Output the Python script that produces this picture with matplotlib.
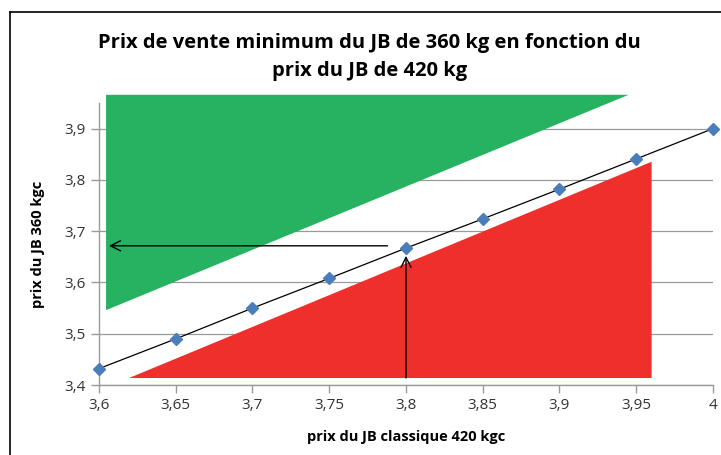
import matplotlib.pyplot as plt
from matplotlib.patches import Polygon
from matplotlib.lines import Line2D

# données
prix_420 = [3.6, 3.65, 3.7, 3.75, 3.8, 3.85, 3.9, 3.95, 4.0]
prix_360 = [3.432, 3.490, 3.550, 3.608, 3.667, 3.724, 3.782, 3.841, 3.900]
x_ticks = [3.6, 3.65, 3.7, 3.75, 3.8, 3.85, 3.9, 3.95, 4.0]
x_labels = ['3,6', '3,65', '3,7', '3,75', '3,8', '3,85', '3,9', '3,95', '4']
y_ticks = [3.4, 3.5, 3.6, 3.7, 3.8, 3.9]
y_labels = ['3,4', '3,5', '3,6', '3,7', '3,8', '3,9']

# zones colorées (triangles)
zone_verte = [(3.6046, 3.966), (3.945, 3.966), (3.6046, 3.546)]
zone_rouge = [(3.6196, 3.4137), (3.960, 3.8355), (3.960, 3.4137)]

# flèches de lecture
fleche_h = ((3.788, 3.6715), (3.6065, 3.6715))
fleche_v = ((3.80, 3.4137), (3.80, 3.652))

plt.rcParams['font.family'] = ['Open Sans', 'DejaVu Sans']

fig = plt.figure(figsize=(7.21, 4.55), dpi=100)
ax = fig.add_axes([0.1373, 0.1538, 0.9889 - 0.1373, 0.7736 - 0.1538])

ax.add_patch(Polygon(zone_verte, closed=True, color='#27b262', lw=0, clip_on=False, zorder=1))
ax.add_patch(Polygon(zone_rouge, closed=True, color='#ee2f2b', lw=0, clip_on=False, zorder=1))

ax.plot(prix_420, prix_360, color='black', lw=0.9, zorder=3)
ax.plot(prix_420, prix_360, ls='none', marker='D', ms=6.5, color='#4a7ebb', zorder=4, clip_on=False)

for (x0, y0), (x1, y1) in [fleche_h, fleche_v]:
    ax.annotate('', xy=(x1, y1), xytext=(x0, y0),
                arrowprops=dict(arrowstyle='->', color='black', lw=1, mutation_scale=18,
                                shrinkA=0, shrinkB=0), zorder=5)

ax.set_xlim(3.6, 4.0)
ax.set_ylim(3.4, 3.95)
ax.set_xticks(x_ticks)
ax.set_xticklabels(x_labels)
ax.set_yticks(y_ticks)
ax.set_yticklabels(y_labels)
ax.grid(axis='y', color='#9a9a9a', lw=0.9, zorder=0)
ax.set_axisbelow(True)
for s in ['top', 'right']:
    ax.spines[s].set_visible(False)
for s in ['left', 'bottom']:
    ax.spines[s].set_color('#9a9a9a')
    ax.spines[s].set_linewidth(1)
ax.tick_params(colors='#9a9a9a', labelcolor='#333333', labelsize=11, length=6, width=1)

ax.set_xlabel('prix du JB classique 420 kgc', fontsize=10.5, fontweight='bold', labelpad=12)
ax.set_ylabel('prix du JB 360 kgc', fontsize=10.5, fontweight='bold', labelpad=14)

fig.text(0.513, 0.875, 'Prix de vente minimum du JB de 360 kg en fonction du\nprix du JB de 420 kg',
         ha='center', va='center', fontsize=14.5, fontweight='bold', linespacing=1.5)

# cadre (bords gauche et haut)
fig.add_artist(Line2D([10 / 721, 10 / 721], [0, 1 - 12 / 455], color='black', lw=1.2))
fig.add_artist(Line2D([10 / 721, 1], [1 - 12 / 455, 1 - 12 / 455], color='black', lw=1.2))

fig.savefig('out.png', dpi=100)
